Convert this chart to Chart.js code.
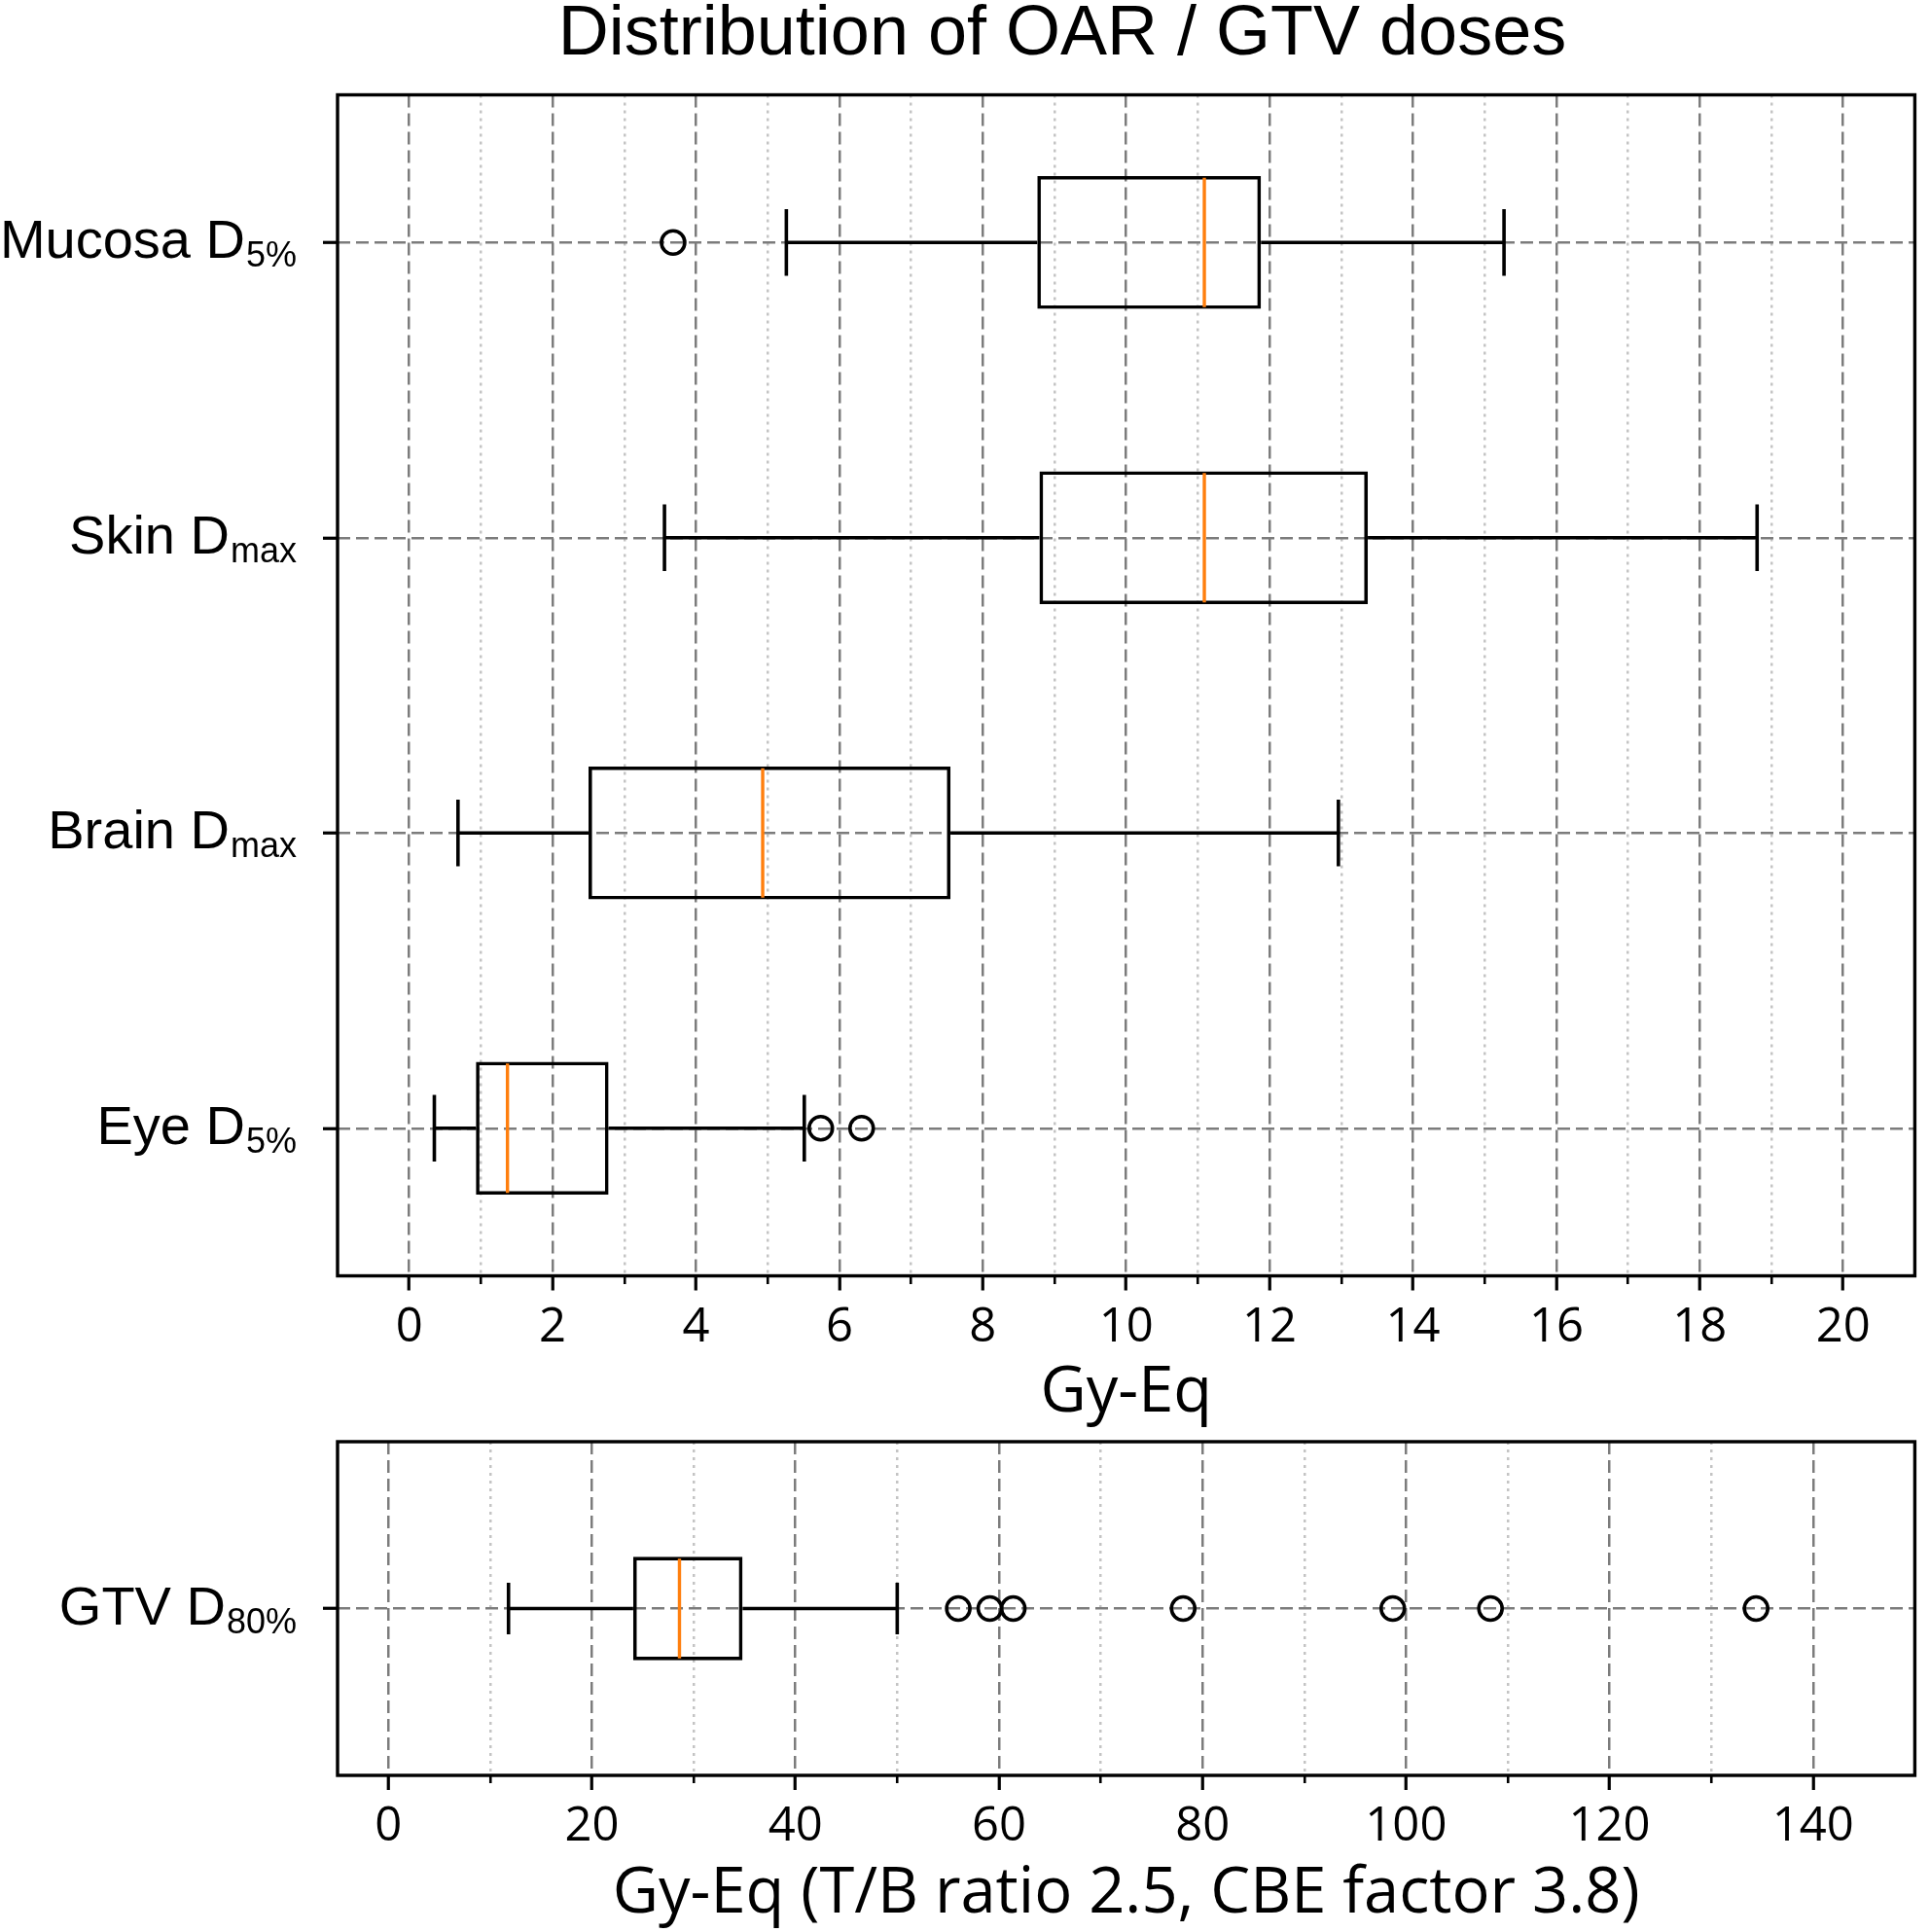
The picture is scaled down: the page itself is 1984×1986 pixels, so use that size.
<!DOCTYPE html>
<html><head><meta charset="utf-8">
<script src="https://cdn.jsdelivr.net/npm/chart.js@4.4.0/dist/chart.umd.min.js"></script>
<style>
html,body{margin:0;padding:0;background:#fff;width:1984px;height:1986px;overflow:hidden}
canvas{position:absolute;left:0}
#c1{top:0}
#c2{top:1440px}
</style></head><body>
<canvas id="c1" width="1984" height="1480"></canvas>
<canvas id="c2" width="1984" height="546"></canvas>
<script>
// ---------- data ----------
const oarCategories   = ['Mucosa D', 'Skin D', 'Brain D', 'Eye D'];
const oarSubscripts   = ['5%', 'max', 'max', '5%'];
const oarWhiskerLow   = [5.26, 3.56, 0.68, 0.35];
const oarQ1           = [8.76, 8.79, 2.50, 0.93];
const oarMedian       = [11.09, 11.09, 4.93, 1.37];
const oarQ3           = [11.88, 13.37, 7.55, 2.78];
const oarWhiskerHigh  = [15.27, 18.80, 12.96, 5.51];
const oarOutliers     = [[3.68], [], [], [5.74, 6.31]];
const oarMajorTicks   = [0, 2, 4, 6, 8, 10, 12, 14, 16, 18, 20];
const oarMinorTicks   = [1, 3, 5, 7, 9, 11, 13, 15, 17, 19];
const oarTitle        = 'Distribution of OAR / GTV doses';
const oarAxisTitle    = 'Gy-Eq';

const gtvCategories   = ['GTV D'];
const gtvSubscripts   = ['80%'];
const gtvWhiskerLow   = [11.8];
const gtvQ1           = [24.05];
const gtvMedian       = [28.6];
const gtvQ3           = [34.8];
const gtvWhiskerHigh  = [50.0];
const gtvOutliers     = [[56.0, 59.1, 61.4, 78.1, 98.7, 108.3, 134.4]];
const gtvMajorTicks   = [0, 20, 40, 60, 80, 100, 120, 140];
const gtvMinorTicks   = [10, 30, 50, 70, 90, 110, 130];
const gtvAxisTitle    = 'Gy-Eq (T/B ratio 2.5, CBE factor 3.8)';

// ---------- styles ----------
const LINE_W = 3.6;
const FRAME_W = 3.4;
const ORANGE = '#ff7f0e';
const MAJOR_GRID = '#7c7c7c';
const MINOR_GRID = '#c4c4c4';
const TICK_FONT = {family: '"Open Sans", sans-serif', size: 49};
const AXIS_TITLE_FONT = {family: '"Open Sans", sans-serif', size: 65, lineHeight: 1.2};
const PAD_LEFT = 210, PAD_RIGHT = 10, Y_AXIS_W = 137;

const framePlugin = {
  id: 'frame',
  afterDraw(chart) {
    const {ctx, chartArea: a} = chart;
    ctx.save();
    ctx.strokeStyle = '#000';
    ctx.lineWidth = FRAME_W;
    ctx.strokeRect(a.left, a.top, a.right - a.left, a.bottom - a.top);
    ctx.restore();
  }
};

const subLabelPlugin = {
  id: 'subLabels',
  afterDraw(chart, args, opts) {
    const ys = chart.scales.y, ctx = chart.ctx;
    ctx.save();
    ctx.fillStyle = '#000';
    ctx.textBaseline = 'alphabetic';
    ctx.textAlign = 'right';
    opts.main.forEach((m, i) => {
      const y = ys.getPixelForValue(i);
      const right = ys.right - 42;
      ctx.font = '36px "Liberation Sans", Arial, sans-serif';
      const sw = ctx.measureText(opts.sub[i]).width;
      ctx.fillText(opts.sub[i], right, y + 25);
      ctx.font = '56px "Liberation Sans", Arial, sans-serif';
      ctx.fillText(m, right - sw - 1, y + 16);
    });
    ctx.restore();
  }
};

function buildChart(canvasId, cfg) {
  const labels = cfg.cats.map((c, i) => c + cfg.subs[i]);
  const n = labels.length;
  const halfBox = (ctx) => ctx.chart.chartArea ? ctx.chart.chartArea.height / n * cfg.boxFrac / 2 : 10;
  const datasets = [];
  // boxes (floating bars)
  datasets.push({
    type: 'bar', indexAxis: 'y',
    data: cfg.q1.map((q, i) => [q, cfg.q3[i]]),
    backgroundColor: 'rgba(0,0,0,0)', borderColor: '#000', borderWidth: LINE_W,
    borderSkipped: false, barPercentage: cfg.boxFrac, categoryPercentage: 1, order: 2
  });
  // whiskers
  labels.forEach((lab, i) => {
    [[cfg.low[i], cfg.q1[i]], [cfg.q3[i], cfg.high[i]]].forEach(seg => {
      datasets.push({
        type: 'line', data: seg.map(v => ({x: v, y: lab})),
        borderColor: '#000', borderWidth: LINE_W, pointRadius: 0, fill: false, order: 1
      });
    });
  });
  // caps
  const capData = [];
  labels.forEach((lab, i) => { capData.push({x: cfg.low[i], y: lab}); capData.push({x: cfg.high[i], y: lab}); });
  datasets.push({
    type: 'scatter', data: capData, pointStyle: 'line', rotation: 90,
    pointRadius: (ctx) => halfBox(ctx) / 2, borderColor: '#000', pointBorderColor: '#000',
    pointBorderWidth: LINE_W, order: 0
  });
  // medians
  datasets.push({
    type: 'scatter', data: cfg.med.map((v, i) => ({x: v, y: labels[i]})), pointStyle: 'line', rotation: 90,
    pointRadius: (ctx) => halfBox(ctx) - 1.8, borderColor: ORANGE, pointBorderColor: ORANGE,
    pointBorderWidth: 3.4, order: 0
  });
  // outliers
  const outData = [];
  labels.forEach((lab, i) => cfg.out[i].forEach(v => outData.push({x: v, y: lab})));
  datasets.push({
    type: 'scatter', data: outData, pointStyle: 'circle', pointRadius: 12,
    pointBackgroundColor: 'rgba(0,0,0,0)', pointBorderColor: '#000', pointBorderWidth: LINE_W, order: 0
  });

  const isMajor = (v) => cfg.major.includes(v);
  return new Chart(document.getElementById(canvasId), {
    type: 'bar',
    data: {labels, datasets},
    plugins: [framePlugin, subLabelPlugin],
    options: {
      responsive: false, animation: false, events: [],
      layout: {padding: {left: PAD_LEFT, right: PAD_RIGHT, top: cfg.padTop, bottom: 0}},
      plugins: {
        legend: {display: false}, tooltip: {enabled: false},
        title: cfg.title ? {
          display: true, text: cfg.title, color: '#000',
          font: {family: '"Liberation Sans", Arial, sans-serif', size: 72, weight: 'normal', lineHeight: 1},
          padding: {top: 0, bottom: 25.5}
        } : {display: false},
        subLabels: {main: cfg.cats, sub: cfg.subs}
      },
      scales: {
        x: {
          type: 'linear', position: 'bottom', min: cfg.min, max: cfg.max, offset: false,
          afterBuildTicks: (s) => { s.ticks = cfg.major.concat(cfg.minor).sort((a, b) => a - b).map(v => ({value: v})); },
          afterFit: (s) => { s.height = cfg.xAxisH; },
          ticks: {
            autoSkip: false, maxRotation: 0, padding: 9, color: '#000', font: TICK_FONT,
            callback: (v) => isMajor(v) ? String(v) : ''
          },
          grid: {
            offset: false,
            color: (c) => c.tick && isMajor(c.tick.value) ? MAJOR_GRID : MINOR_GRID,
            lineWidth: 2.5, tickLength: 15, tickColor: '#000',
            tickWidth: (c) => c.tick && isMajor(c.tick.value) ? 3.2 : 2.6,
            tickBorderDash: (c) => c.tick && isMajor(c.tick.value) ? [] : [8, 100]
          },
          border: {display: false, dash: (c) => c.tick ? (isMajor(c.tick.value) ? [13, 6] : [3, 5]) : []},
          title: {display: true, text: cfg.axisTitle, color: '#000', font: AXIS_TITLE_FONT, padding: {top: 0, bottom: cfg.titlePadB}}
        },
        y: {
          type: 'category', position: 'left', offset: true,
          afterFit: (s) => { s.width = Y_AXIS_W; },
          ticks: {display: false},
          grid: {offset: false, color: MAJOR_GRID, lineWidth: 2.5, tickLength: 15, tickColor: '#000', tickWidth: 3.2},
          border: {display: false, dash: (c) => c.tick ? [13, 6] : []}
        }
      }
    }
  });
}

function draw() {
  buildChart('c1', {
    cats: oarCategories, subs: oarSubscripts, low: oarWhiskerLow, q1: oarQ1, med: oarMedian,
    q3: oarQ3, high: oarWhiskerHigh, out: oarOutliers, major: oarMajorTicks, minor: oarMinorTicks,
    min: -1, max: 21, boxFrac: 0.45, title: oarTitle, axisTitle: oarAxisTitle,
    padTop: 0, xAxisH: 168.5, titlePadB: 9
  });
  buildChart('c2', {
    cats: gtvCategories, subs: gtvSubscripts, low: gtvWhiskerLow, q1: gtvQ1, med: gtvMedian,
    q3: gtvQ3, high: gtvWhiskerHigh, out: gtvOutliers, major: gtvMajorTicks, minor: gtvMinorTicks,
    min: -5, max: 150, boxFrac: 0.31, title: null, axisTitle: gtvAxisTitle,
    padTop: 42, xAxisH: 161, titlePadB: 0
  });
}
if (document.fonts && document.fonts.ready) { document.fonts.ready.then(draw); } else { draw(); }
</script>
</body></html>
